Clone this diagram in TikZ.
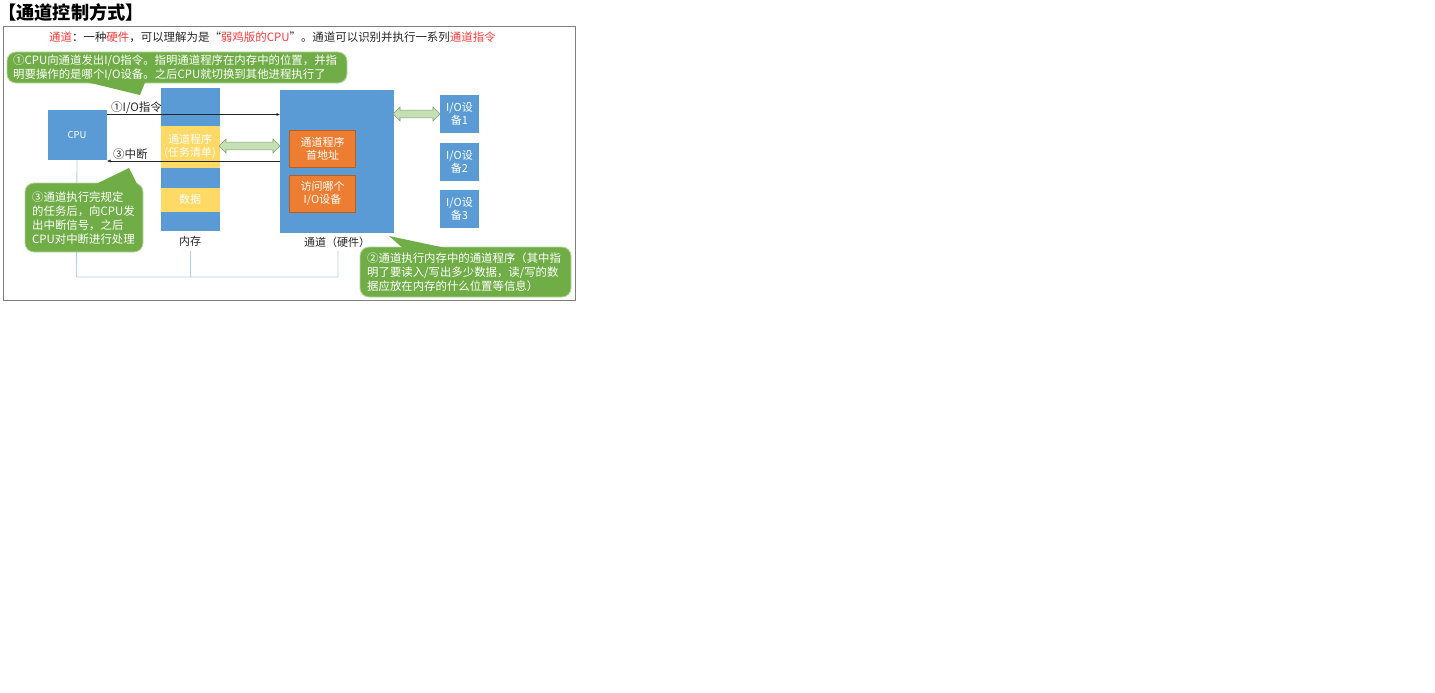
\documentclass[tikz,border=0pt]{standalone}
\usepackage{fontspec}
\setmainfont{Noto Sans CJK SC}
\usetikzlibrary{shapes.arrows,arrows.meta}
\definecolor{boxblue}{HTML}{5B9BD5}
\definecolor{boxyellow}{HTML}{FFD966}
\definecolor{boxorange}{HTML}{ED7D31}
\definecolor{orangeline}{HTML}{B35F24}
\definecolor{calloutgreen}{HTML}{70AD47}
\definecolor{calloutedge}{HTML}{B5D69C}
\definecolor{arrowgreen}{HTML}{C5E0B4}
\definecolor{arrowedge}{HTML}{7E9D6B}
\definecolor{linkblue}{HTML}{B4CFEA}
\definecolor{framegray}{HTML}{7F7F7F}
\definecolor{txtred}{HTML}{FF3B3B}
\definecolor{txtdark}{HTML}{262626}
\begin{document}
\begin{tikzpicture}[x=1pt,y=-1pt,
  bluebox/.style={draw=none,fill=boxblue,inner sep=0pt,text=white,align=center,font=\fontsize{11}{13}\selectfont},
  yellowbox/.style={fill=boxyellow,inner sep=0pt,text=white,align=center,font=\fontsize{11}{13}\selectfont},
  orangebox/.style={fill=boxorange,draw=orangeline,line width=0.6pt,inner sep=0pt,text=white,align=center,font=\fontsize{11}{13}\selectfont},
  callout/.style={fill=calloutgreen,draw=calloutedge,line width=0.8pt,rounded corners=9pt},
  callouttext/.style={text=white,align=left,inner sep=0pt,anchor=north west,font=\fontsize{11.4}{14}\selectfont},
  plaintext/.style={text=txtdark,inner sep=0pt,font=\fontsize{11}{13}\selectfont},
  thinarrow/.style={draw=txtdark,line width=0.5pt,-{Latex[length=3.5pt,width=3pt]}},
  fatarrow/.style={double arrow,draw=arrowedge,fill=arrowgreen,line width=0.6pt,inner xsep=0pt,inner ysep=3.5pt,minimum width=14pt,double arrow head extend=3pt,double arrow head indent=0pt},
  linkline/.style={draw=linkblue,line width=0.9pt}
]
\useasboundingbox (0,0) rectangle (1435,693);
% title
\node[anchor=west,inner sep=0pt,font=\fontsize{18.2}{21}\selectfont\bfseries,text=black] (title) at (-2,12.5) {【通道控制方式】};
% frame
\draw[draw=framegray,line width=0.8pt] (3,26) rectangle (575,300);
% intro line
\node[anchor=west,plaintext,font=\fontsize{11.45}{13}\selectfont] (intro) at (49,37) {\textcolor{txtred}{通道}：一种\textcolor{txtred}{硬件}，可以理解为是“\textcolor{txtred}{弱鸡版的CPU}”。通道可以识别并执行一系列\textcolor{txtred}{通道指令}};

% bottom link lines (behind)
\coordinate (lcpu) at (76.5,277);
\coordinate (lmem) at (190,277);
\coordinate (lchan) at (338,277);
\coordinate (memtop) at (190,251);
\coordinate (chantop) at (338,251);

% boxes
\node[bluebox,minimum width=59pt,minimum height=50pt,font=\fontsize{9.5}{11}\selectfont] (cpu) at (77,135) {CPU};
\node[bluebox,minimum width=59pt,minimum height=143pt] (mem) at (190,159.5) {};
\node[yellowbox,minimum width=59pt,minimum height=42pt] (prog) at (190,146.5) {通道程序\\(任务清单)};
\node[yellowbox,minimum width=59pt,minimum height=24pt] (data) at (190,199.5) {数据};
\node[bluebox,minimum width=114pt,minimum height=143pt] (chan) at (337,161.5) {};
\node[orangebox,minimum width=66pt,minimum height=37pt] (addr) at (322.5,148.5) {通道程序\\首地址};
\node[orangebox,minimum width=66pt,minimum height=37pt] (which) at (322.5,193.5) {访问哪个\\I/O设备};
\node[bluebox,minimum width=39pt,minimum height=38pt] (io1) at (459.5,114) {I/O设\\备1};
\node[bluebox,minimum width=39pt,minimum height=38pt] (io2) at (459.5,161.5) {I/O设\\备2};
\node[bluebox,minimum width=39pt,minimum height=38pt] (io3) at (459.5,209) {I/O设\\备3};
\node[plaintext] (memlabel) at (190,241) {内存};
\node[plaintext] (chanlabel) at (337,242) {通道（硬件）};

\draw[linkline] (cpu.south) -- (lcpu) -- (lmem) -- (lchan) -- (chantop);
\draw[linkline] (memtop) -- (lmem);

% thin arrows
\coordinate (a1s) at (107,114.5);
\coordinate (a1e) at (280,114.5);
\coordinate (a3s) at (280,161);
\coordinate (a3e) at (107,161);
\draw[thinarrow] (a1s) -- (a1e);
\draw[thinarrow] (a3s) -- (a3e);
\node[plaintext,anchor=west,font=\fontsize{11.5}{13}\selectfont] (l1) at (111,108) {①I/O指令};
\node[plaintext,anchor=west,font=\fontsize{11.5}{13}\selectfont] (l3) at (113,154) {③中断};

% fat double arrows
\node[fatarrow,minimum height=61pt] (fa1) at (249.5,146) {};
\node[fatarrow,minimum height=47pt] (fa2) at (416.5,114) {};

% callout 1
\draw[callout] (7,52) rectangle (347,83);
\fill[calloutgreen] (78,80) -- (140,95) -- (146,80) -- cycle;
\node[callouttext] (c1) at (13,54.5) {①CPU向通道发出I/O指令。指明通道程序在内存中的位置，并指\\明要操作的是哪个I/O设备。之后CPU就切换到其他进程执行了};

% callout 3
\draw[callout] (25,183) rectangle (143,252);
\fill[calloutgreen] (92,186) -- (129,168) -- (138,186) -- cycle;
\node[callouttext] (c3) at (32,191.5) {③通道执行完规定\\的任务后，向CPU发\\出中断信号，之后\\CPU对中断进行处理};

% callout 2
\draw[callout] (360,247) rectangle (571,297);
\fill[calloutgreen] (405,250) -- (389,236) -- (455,250) -- cycle;
\node[callouttext] (c2) at (367,252.5) {②通道执行内存中的通道程序（其中指\\明了要读入/写出多少数据，读/写的数\\据应放在内存的什么位置等信息）};
\end{tikzpicture}
\end{document}
